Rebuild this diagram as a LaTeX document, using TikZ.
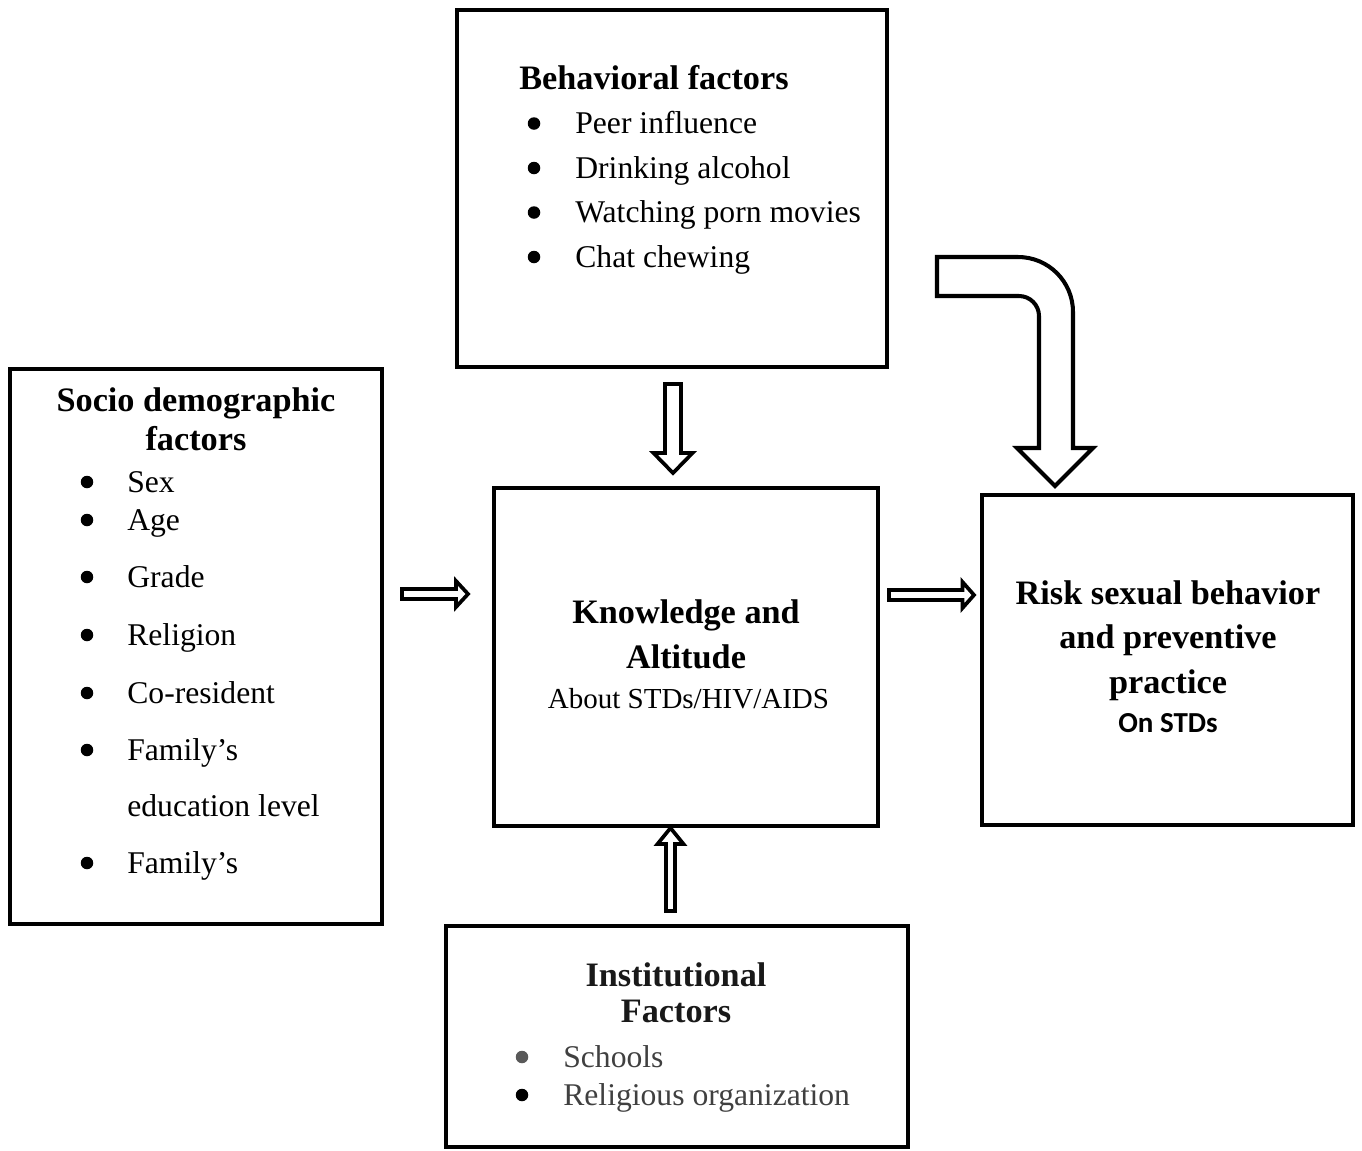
\documentclass[tikz,border=0pt]{standalone}
\usepackage{fontspec}
\setmainfont{Liberation Serif}
\newfontfamily\calibri{Carlito}
\usetikzlibrary{calc}
\definecolor{instgray}{HTML}{404040}
\definecolor{dotgray}{HTML}{595959}
\tikzset{
  box/.style={draw, line width=2.3pt, inner sep=0pt},
  head/.style={font=\fontsize{19.5}{23}\selectfont\bfseries, anchor=base},
  item/.style={font=\fontsize{18}{22}\selectfont, anchor=base west, inner sep=0pt},
  dot/.style={circle, fill, inner sep=0pt, minimum size=0.25cm},
  hollow/.style={draw, line width=2.1pt, fill=white, line join=miter},
}
%start, end, shaft half width, head half width, head length
\newcommand{\blockarrow}[5]{%
  \coordinate (ba-s) at #1;
  \coordinate (ba-e) at #2;
  \coordinate (ba-h) at ($(ba-e)!#5!(ba-s)$);
  \draw[hollow] ($(ba-s)!#3!90:(ba-e)$) -- ($(ba-h)!#3!90:(ba-e)$) -- ($(ba-h)!#4!90:(ba-e)$) -- (ba-e)
    -- ($(ba-h)!#4!-90:(ba-e)$) -- ($(ba-h)!#3!-90:(ba-e)$) -- ($(ba-s)!#3!-90:(ba-e)$) -- cycle;
}
\begin{document}
\begin{tikzpicture}[x=0.02cm, y=-0.02cm]
  \useasboundingbox (0,0) rectangle (1362,1150);
  %Boxes
  \node[box, minimum width=8.6cm, minimum height=7.14cm] (behav) at (672,188.5) {};
  \node[box, minimum width=7.44cm, minimum height=11.1cm] (socio) at (196,646.5) {};
  \node[box, minimum width=7.68cm, minimum height=6.76cm] (know) at (686,657) {};
  \node[box, minimum width=7.42cm, minimum height=6.6cm] (risk) at (1167.5,660) {};
  \node[box, minimum width=9.24cm, minimum height=4.42cm] (inst) at (677,1036.5) {};

  %Behavioral factors
  \node[head] (behav-t) at (654,89) {Behavioral factors};
  \foreach \txt [count=\i] in {Peer influence, Drinking alcohol, Watching porn movies, Chat chewing}{
    \node[dot] (behav-d\i) at (534,{79+44.5*\i}) {};
    \node[item] (behav-i\i) at (575,{89+44.5*\i}) {\txt};
  }

  %Socio demographic factors
  \node[head] (socio-t1) at (196,411) {Socio demographic};
  \node[head] (socio-t2) at (196,450) {factors};
  \foreach \y/\txt [count=\i] in {492/Sex, 530/Age, 587/Grade, 645/Religion, 703/Co-resident, 760/Family’s, 873/Family’s}{
    \node[dot] (socio-d\i) at (87,\y-10) {};
    \node[item] (socio-i\i) at (127,\y) {\txt};
  }
  \node[item] (socio-i8) at (127,816) {education level};

  %Knowledge and altitude
  \node[head] (know-t1) at (686,623) {Knowledge and};
  \node[head] (know-t2) at (686,668) {Altitude};
  \node[font=\fontsize{16.5}{20}\selectfont, anchor=base] (know-s) at (688.5,708) {About STDs/HIV/AIDS};

  %Risk sexual behavior
  \node[head] (risk-t1) at (1168,604) {Risk sexual behavior};
  \node[head] (risk-t2) at (1168,648) {and preventive};
  \node[head] (risk-t3) at (1168,693) {practice};
  \node[font=\calibri\bfseries\fontsize{16.5}{20}\selectfont, anchor=base] (risk-s) at (1168,732) {On STDs};

  %Institutional factors
  \node[head, text=black!90] (inst-t1) at (676,986) {Institutional};
  \node[head, text=black!90] (inst-t2) at (676,1022) {Factors};
  \node[dot, fill=dotgray] (inst-d1) at (522,1057) {};
  \node[item, text=instgray] (inst-i1) at (563,1067) {Schools};
  \node[dot] (inst-d2) at (522,1095) {};
  \node[item, text=instgray] (inst-i2) at (563,1105) {Religious organization};

  %Arrows
  \blockarrow{($(socio.east)+(18,-52.5)$)}{($(know.west)+(-24,-63)$)}{0.10cm}{0.26cm}{0.24cm}
  \blockarrow{($(know.east)+(9,-62)$)}{($(risk.west)+(-6,-65)$)}{0.10cm}{0.26cm}{0.23cm}
  \blockarrow{($(behav.south)+(1,15)$)}{($(know.north)+(-13,-13)$)}{0.16cm}{0.39cm}{0.40cm}
  \blockarrow{($(inst.north)+(-6.5,-13)$)}{($(know.south)+(-15.5,0)$)}{0.09cm}{0.26cm}{0.32cm}

  %Curved arrow to risk
  \draw[hollow, line width=2.3pt] (937,257) -- (1018,257) .. controls (1048.4,257) and (1073,281.6) .. (1073,312)
    -- (1073,448) -- (1093,448) -- (1055,486) -- (1017,448) -- (1039,448) -- (1039,316)
    .. controls (1039,305) and (1030,296) .. (1019,296) -- (937,296) -- cycle;
\end{tikzpicture}
\end{document}
